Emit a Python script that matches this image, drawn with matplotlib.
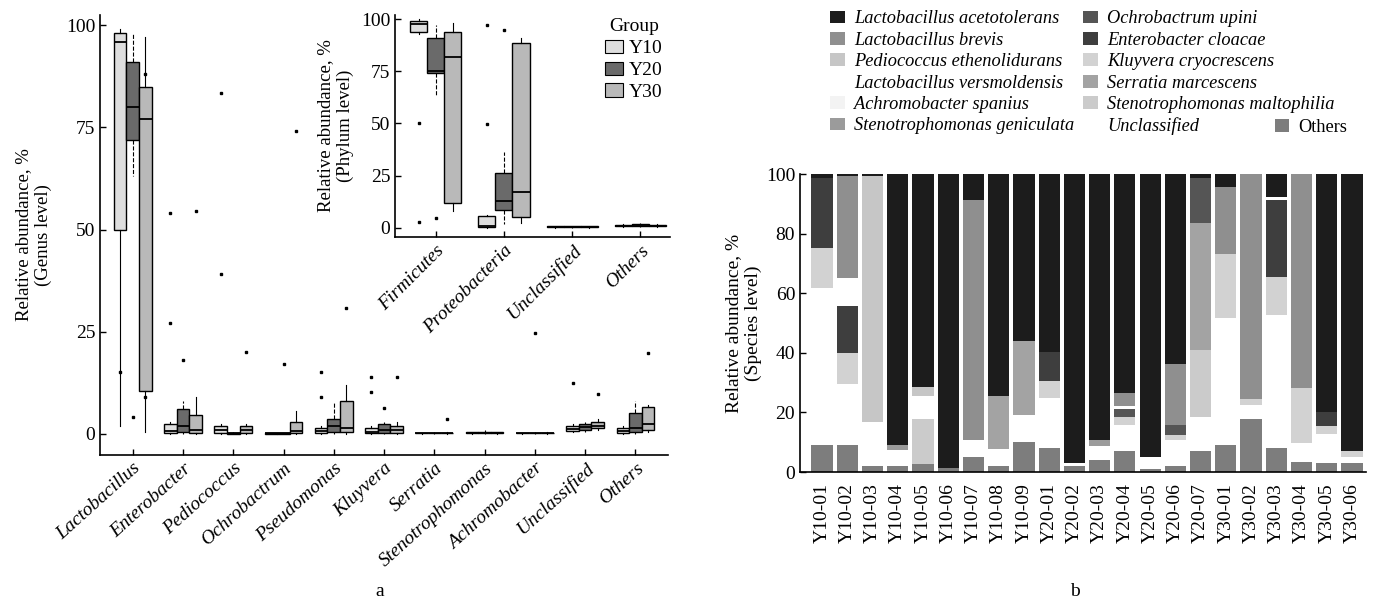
import matplotlib
matplotlib.use('Agg')
import matplotlib.pyplot as plt
from matplotlib.patches import Patch
import numpy as np

plt.rcParams['font.family'] = ['Liberation Serif', 'DejaVu Serif']
plt.rcParams['font.size'] = 14
plt.rcParams['axes.linewidth'] = 1.2

# ---------------- genus level (box plots) ----------------
genera = ['Lactobacillus', 'Enterobacter', 'Pediococcus', 'Ochrobactrum', 'Pseudomonas',
          'Kluyvera', 'Serratia', 'Stenotrophomonas', 'Achromobacter', 'Unclassified', 'Others']

y10_q1 = [50, 0.2, 0.1, 0.0, 0.1, 0.1, 0.1, 0.1, 0.1, 0.8, 0.2]
y10_med = [96, 0.8, 1.0, 0.1, 0.8, 0.5, 0.2, 0.2, 0.2, 1.2, 0.6]
y10_q3 = [98, 2.3, 1.9, 0.2, 1.5, 1.5, 0.3, 0.4, 0.3, 1.9, 1.5]
y10_lo = [2, 0, 0, 0, 0, 0, 0, 0, 0, 0.5, 0]
y10_hi = [99, 3, 2.5, 0.2, 2, 2, 0.3, 0.5, 0.3, 2.5, 2]
y10_out = [[15], [54, 27], [83.4, 39], [], [15.2, 9.1], [14, 10.3], [], [], [], [12.5], []]

y20_q1 = [72, 0.4, 0.0, 0.0, 0.4, 0.3, 0.1, 0.1, 0.1, 1.0, 0.5]
y20_med = [80, 2.0, 0.1, 0.1, 2.0, 1.0, 0.2, 0.2, 0.2, 1.7, 1.5]
y20_q3 = [91, 6.1, 0.3, 0.2, 3.5, 2.3, 0.3, 0.4, 0.3, 2.5, 5.0]
y20_lo = [63, 0, 0, 0, 0, 0, 0, 0, 0, 0.5, 0]
y20_hi = [98, 8, 0.4, 0.3, 7.5, 3, 0.4, 1.0, 0.4, 3, 8]
y20_out = [[4], [18], [], [17], [], [6.4], [], [], [24.7], [], []]

y30_q1 = [10.5, 0.2, 0.2, 0.3, 0.4, 0.3, 0.1, 0.1, 0.1, 1.5, 1.0]
y30_med = [77, 1.0, 1.0, 0.8, 1.5, 1.0, 0.2, 0.2, 0.2, 2.0, 2.5]
y30_q3 = [85, 4.7, 2.0, 3.0, 8.0, 2.0, 0.3, 0.4, 0.3, 2.8, 6.5]
y30_lo = [0.5, 0, 0, 0, 0, 0, 0, 0, 0, 1, 0.5]
y30_hi = [97, 9, 2.5, 5.5, 12, 3, 0.4, 0.5, 0.4, 3.5, 7]
y30_out = [[88, 9], [54.5], [20], [74], [30.8], [13.8], [3.5], [], [], [9.8], [19.8]]

# ---------------- phylum level (inset) ----------------
phyla = ['Firmicutes', 'Proteobacteria', 'Unclassified', 'Others']

p10_q1 = [94, 0.5, 0.2, 0.6]
p10_med = [97.5, 1, 0.4, 0.8]
p10_q3 = [99.3, 5.5, 0.6, 1.2]
p10_lo = [93, 0, 0, 0.3]
p10_hi = [100, 6, 0.8, 1.5]
p10_out = [[50, 2.5], [49.5, 97.3], [], []]

p20_q1 = [74, 8.5, 0.2, 0.8]
p20_med = [75, 13, 0.4, 1.2]
p20_q3 = [91, 26, 0.6, 1.6]
p20_lo = [63, 1.5, 0, 0.5]
p20_hi = [97, 36.5, 0.8, 2]
p20_out = [[4.5], [95], [], []]

p30_q1 = [11.7, 5.3, 0.2, 0.6]
p30_med = [82, 17, 0.4, 0.9]
p30_q3 = [94, 88.5, 0.6, 1.3]
p30_lo = [8, 2, 0, 0.3]
p30_hi = [98, 91, 0.8, 1.6]
p30_out = [[], [], [], []]

groups = ['Y10', 'Y20', 'Y30']
group_colors = ['#dedede', '#6a6a6a', '#b9b9b9']
whisker_styles = ['-', '--', '-']

# ---------------- species level (stacked bars) ----------------
samples = ['Y10-01', 'Y10-02', 'Y10-03', 'Y10-04', 'Y10-05', 'Y10-06', 'Y10-07', 'Y10-08', 'Y10-09',
           'Y20-01', 'Y20-02', 'Y20-03', 'Y20-04', 'Y20-05', 'Y20-06', 'Y20-07',
           'Y30-01', 'Y30-02', 'Y30-03', 'Y30-04', 'Y30-05', 'Y30-06']

species = ['Lactobacillus acetotolerans', 'Lactobacillus brevis', 'Pediococcus ethenolidurans',
           'Lactobacillus versmoldensis', 'Achromobacter spanius', 'Stenotrophomonas geniculata',
           'Ochrobactrum upini', 'Enterobacter cloacae', 'Kluyvera cryocrescens',
           'Serratia marcescens', 'Stenotrophomonas maltophilia', 'Unclassified', 'Others']

l_acetotolerans = [1.5, 0.7, 0.7, 91, 71.4, 98.5, 8.8, 74.4, 56, 59.6, 97, 89.3, 73.4, 95, 63.6, 1.5,
                   4.3, 0, 7.8, 0, 80, 93]
l_brevis = [0, 34.3, 0, 0, 0, 0, 80.4, 0, 0, 0, 0, 0, 4.6, 0, 20.5, 0, 22.5, 75.4, 0, 71.8, 0, 0]
p_ethenolidurans = [0, 0, 82.5, 0, 3, 0, 0, 0, 0, 0, 0, 0, 0, 0, 0, 0, 0, 0, 0, 0, 0, 0]
l_versmoldensis = [0, 9.3, 0, 0, 7.8, 0, 0, 0, 0, 0, 0, 0, 1, 0, 0, 0, 0, 0, 1, 0, 0, 0]
a_spanius = [0] * 22
s_geniculata = [0, 0, 0, 1.5, 0, 0, 0, 0, 0, 0, 0, 2, 0, 0, 0, 0, 0, 0, 0, 0, 0, 0]
o_upini = [0, 0, 0, 0, 0, 0, 0, 0, 0, 0, 0, 0, 2.6, 0, 3.6, 15.1, 0, 0, 0, 0, 0, 0]
e_cloacae = [23.3, 15.8, 0, 0, 0, 0, 0, 0, 0, 9.7, 0, 0, 0, 0, 0, 0, 0, 0, 25.6, 0, 4.6, 0]
k_cryocrescens = [13.3, 10.3, 0, 0, 0, 0, 0, 0, 0, 5.7, 0, 0, 2.6, 0, 1.6, 0, 21.6, 2.1, 12.8, 18.5, 2.6, 2]
s_marcescens = [0, 0, 0, 0, 0, 0, 0, 18, 25, 0, 0, 0, 0, 0, 0, 42.4, 0, 0, 0, 0, 0, 0]
s_maltophilia = [0, 0, 0, 0, 15, 0, 0, 0, 0, 0, 0, 0, 0, 0, 0, 22.6, 0, 0, 0, 0, 0, 0]
unclassified = [52.7, 20.4, 14.8, 5.5, 0, 0, 5.8, 5.6, 9, 17, 1, 4.7, 8.8, 4, 8.7, 11.4,
                42.4, 4.6, 44.6, 6.2, 9.8, 2]
others = [9.2, 9.2, 2, 2, 2.8, 1.5, 5, 2, 10, 8, 2, 4, 7, 1, 2, 7, 9.2, 17.9, 8.2, 3.5, 3, 3]

species_values = [l_acetotolerans, l_brevis, p_ethenolidurans, l_versmoldensis, a_spanius,
                  s_geniculata, o_upini, e_cloacae, k_cryocrescens, s_marcescens,
                  s_maltophilia, unclassified, others]
species_colors = ['#1c1c1c', '#8f8f8f', '#c6c6c6', '#ffffff', '#f3f3f3', '#9b9b9b',
                  '#555555', '#3e3e3e', '#d2d2d2', '#a3a3a3', '#cbcbcb', '#ffffff', '#7d7d7d']


def make_stats(q1, med, q3, lo, hi, out):
    return [dict(q1=q1[i], med=med[i], q3=q3[i], whislo=lo[i], whishi=hi[i], fliers=out[i])
            for i in range(len(q1))]


def draw_boxes(ax, all_stats, n, width, offsets):
    for g, stats in enumerate(all_stats):
        pos = np.arange(n) + offsets[g]
        ax.bxp(stats, positions=pos, widths=width, patch_artist=True, showcaps=False,
               boxprops=dict(facecolor=group_colors[g], edgecolor='black', linewidth=1.0),
               whiskerprops=dict(color='black', linewidth=0.8, linestyle=whisker_styles[g]),
               medianprops=dict(color='black', linewidth=1.3),
               flierprops=dict(marker='s', markersize=2, markerfacecolor='black',
                               markeredgecolor='black'))


def style_axes(ax):
    ax.spines['top'].set_visible(False)
    ax.spines['right'].set_visible(False)
    ax.tick_params(direction='in', length=4, width=1)


fig = plt.figure(figsize=(13.76, 6.03), dpi=100)

# ---- panel a: genus level ----
ax = fig.add_axes([0.0727, 0.2454, 0.4128, 0.7297])
genus_stats = [make_stats(y10_q1, y10_med, y10_q3, y10_lo, y10_hi, y10_out),
               make_stats(y20_q1, y20_med, y20_q3, y20_lo, y20_hi, y20_out),
               make_stats(y30_q1, y30_med, y30_q3, y30_lo, y30_hi, y30_out)]
draw_boxes(ax, genus_stats, len(genera), 0.25, [-0.25, 0, 0.25])
ax.set_xlim(-0.65, 10.65)
ax.set_ylim(-5.2, 102.5)
ax.set_yticks([0, 25, 50, 75, 100])
ax.set_xticks(range(len(genera)))
ax.set_xticklabels(genera, rotation=42, ha='right', rotation_mode='anchor', style='italic')
ax.set_ylabel('Relative abundance, %\n(Genus level)', labelpad=10, fontsize=13.5)
style_axes(ax)

# ---- inset: phylum level ----
axi = fig.add_axes([0.2871, 0.607, 0.1999, 0.368])
phylum_stats = [make_stats(p10_q1, p10_med, p10_q3, p10_lo, p10_hi, p10_out),
                make_stats(p20_q1, p20_med, p20_q3, p20_lo, p20_hi, p20_out),
                make_stats(p30_q1, p30_med, p30_q3, p30_lo, p30_hi, p30_out)]
draw_boxes(axi, phylum_stats, len(phyla), 0.25, [-0.25, 0, 0.25])
axi.set_xlim(-0.6, 3.44)
axi.set_ylim(-4.5, 102)
axi.set_yticks([0, 25, 50, 75, 100])
axi.set_xticks(range(len(phyla)))
axi.set_xticklabels(phyla, rotation=45, ha='right', rotation_mode='anchor', style='italic')
axi.set_ylabel('Relative abundance, %\n(Phylum level)', labelpad=5, fontsize=13.5)
style_axes(axi)
handles = [Patch(facecolor=c, edgecolor='black', linewidth=0.8) for c in group_colors]
axi.legend(handles, groups, title='Group', loc='upper right', bbox_to_anchor=(1.0, 1.02),
           frameon=False, fontsize=14, title_fontsize=14, handlelength=0.9, handleheight=0.7,
           handletextpad=0.3, labelspacing=0.22, borderaxespad=0)

# ---- panel b: species level ----
axr = fig.add_axes([0.5814, 0.2172, 0.4113, 0.4942])
x = np.arange(len(samples))
top = np.full(len(samples), 100.0)
bar_handles = []
for name, vals, col in zip(species, species_values, species_colors):
    vals = np.array(vals, dtype=float)
    top = top - vals
    axr.bar(x, vals, bottom=top, width=0.84, color=col, linewidth=0)
    bar_handles.append(Patch(facecolor=col, linewidth=0))
axr.set_xlim(-0.87, 21.55)
axr.set_ylim(0, 100)
axr.set_yticks([0, 20, 40, 60, 80, 100])
axr.set_xticks(x)
axr.set_xticklabels(samples, rotation=90)
axr.set_ylabel('Relative abundance, %\n(Species level)', labelpad=3)
style_axes(axr)
axr.tick_params(axis='x', length=0, pad=8)

fig.legend(bar_handles[:12], species[:12], ncol=2, loc='upper left',
           bbox_to_anchor=(0.598, 0.995), frameon=False,
           prop={'style': 'italic', 'size': 13.2}, handlelength=0.8, handleheight=0.7,
           handletextpad=0.5, labelspacing=0.24, columnspacing=0.5, borderaxespad=0)
fig.legend(bar_handles[12:], species[12:], loc='center left',
           bbox_to_anchor=(0.921, 1 - 127 / 603), frameon=False, fontsize=13.2,
           handlelength=0.8, handleheight=0.7, handletextpad=0.5, borderaxespad=0)

fig.text(380 / 1376, 1 - 592 / 603, 'a', ha='center', va='center', fontsize=14)
fig.text(1075 / 1376, 1 - 592 / 603, 'b', ha='center', va='center', fontsize=14)

fig.savefig('out.png', dpi=100, facecolor='white')
